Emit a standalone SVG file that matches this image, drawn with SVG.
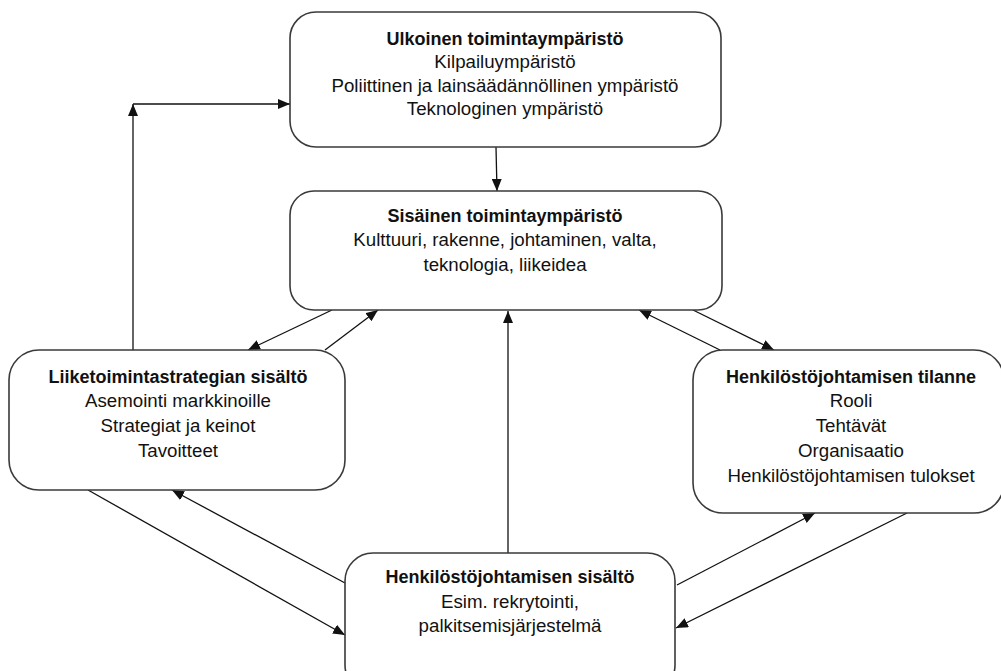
<svg xmlns="http://www.w3.org/2000/svg" width="1001" height="671" viewBox="0 0 1001 671">
<style>
.box{fill:#fff;stroke:#3a3a3a;stroke-width:1.6}
text{font-family:"Liberation Sans",Arial,sans-serif;font-size:18.7px;fill:#111;text-anchor:middle}
.t{font-weight:bold;font-size:18px}
.c{stroke:#111;stroke-width:1.3;fill:none;marker-end:url(#ah)}
</style>
<defs>
<marker id="ah" viewBox="0 0 12 10" refX="12" refY="5" markerWidth="12" markerHeight="10" markerUnits="userSpaceOnUse" orient="auto">
<path d="M0,0 L12,5 L0,10 Z" fill="#111"/>
</marker>
</defs>
<rect width="1001" height="671" fill="#fff"/>
<g id="connectors">
<line class="c" x1="496" y1="147" x2="497" y2="191"/>
<line class="c" x1="508" y1="553" x2="508" y2="311"/>
<line class="c" x1="133" y1="350" x2="133" y2="104"/>
<line class="c" x1="133" y1="104" x2="290" y2="104"/>
<line class="c" x1="332" y1="310" x2="248" y2="350"/>
<line class="c" x1="325" y1="350" x2="378" y2="310"/>
<line class="c" x1="720" y1="350" x2="639" y2="310"/>
<line class="c" x1="693" y1="310" x2="774" y2="350"/>
<line class="c" x1="88" y1="490" x2="345" y2="635"/>
<line class="c" x1="345" y1="583" x2="172" y2="490"/>
<line class="c" x1="677" y1="585" x2="815" y2="513"/>
<line class="c" x1="907" y1="513" x2="676" y2="628"/>
</g>
<g id="ulkoinen">
<rect class="box" x="290" y="12" width="431" height="135" rx="26"/>
<text class="t" x="505" y="45">Ulkoinen toimintaympäristö</text>
<text x="505" y="68">Kilpailuympäristö</text>
<text x="505" y="92">Poliittinen ja lainsäädännöllinen ympäristö</text>
<text x="505" y="115">Teknologinen ympäristö</text>
</g>
<g id="sisainen">
<rect class="box" x="290" y="191" width="432" height="119" rx="24"/>
<text class="t" x="505" y="222">Sisäinen toimintaympäristö</text>
<text x="505" y="246">Kulttuuri, rakenne, johtaminen, valta,</text>
<text x="505" y="271">teknologia, liikeidea</text>
</g>
<g id="liiketoiminta">
<rect class="box" x="9" y="350" width="336" height="140" rx="30"/>
<text class="t" x="178" y="383">Liiketoimintastrategian sisältö</text>
<text x="178" y="407">Asemointi markkinoille</text>
<text x="178" y="432">Strategiat ja keinot</text>
<text x="178" y="457">Tavoitteet</text>
</g>
<g id="tilanne">
<rect class="box" x="693" y="350" width="311" height="163" rx="30"/>
<text class="t" x="851" y="383">Henkilöstöjohtamisen tilanne</text>
<text x="851" y="407">Rooli</text>
<text x="851" y="432">Tehtävät</text>
<text x="851" y="457">Organisaatio</text>
<text x="851" y="482">Henkilöstöjohtamisen tulokset</text>
</g>
<g id="sisalto">
<rect class="box" x="345" y="553" width="330" height="140" rx="28"/>
<text class="t" x="510" y="583">Henkilöstöjohtamisen sisältö</text>
<text x="510" y="608">Esim. rekrytointi,</text>
<text x="510" y="632">palkitsemisjärjestelmä</text>
</g>
</svg>
